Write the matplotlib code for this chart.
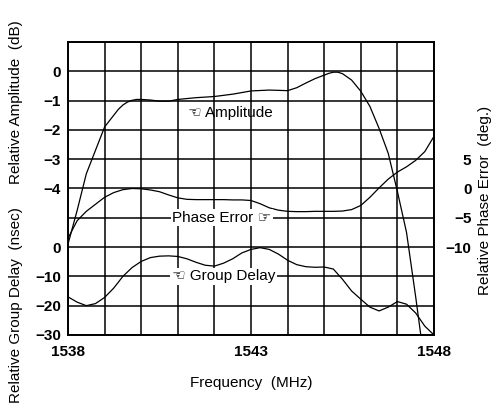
import matplotlib
matplotlib.use("Agg")
import matplotlib.pyplot as plt

# frequency grid (MHz) shared by phase error and group delay
freq = [1538.0, 1538.25, 1538.5, 1538.75, 1539.0, 1539.25, 1539.5, 1539.75,
        1540.0, 1540.25, 1540.5, 1540.75, 1541.0, 1541.25, 1541.5, 1541.75,
        1542.0, 1542.25, 1542.5, 1542.75, 1543.0, 1543.25, 1543.5, 1543.75,
        1544.0, 1544.25, 1544.5, 1544.75, 1545.0, 1545.25, 1545.5, 1545.75,
        1546.0, 1546.25, 1546.5, 1546.75, 1547.0, 1547.25, 1547.5, 1547.75,
        1548.0]

# relative amplitude (dB)
amp_freq = [1538.0, 1538.25, 1538.5, 1538.75, 1539.0, 1539.25, 1539.375, 1539.5,
            1539.625, 1539.75, 1539.875, 1540.0, 1540.25, 1540.5, 1540.75, 1541.0,
            1541.5, 1542.0, 1542.5, 1543.0, 1543.5, 1543.75, 1544.0, 1544.25,
            1544.5, 1544.75, 1545.0, 1545.125, 1545.25, 1545.375, 1545.5, 1545.75,
            1546.0, 1546.25, 1546.5, 1546.75, 1547.0, 1547.25, 1547.5, 1547.65]
amplitude = [-5.9, -4.75, -3.5, -2.7, -1.9, -1.5, -1.3, -1.15,
             -1.05, -0.99, -0.96, -0.96, -0.98, -1.02, -1.02, -0.96,
             -0.9, -0.86, -0.78, -0.67, -0.64, -0.65, -0.66, -0.56,
             -0.4, -0.25, -0.13, -0.07, -0.03, -0.03, -0.08, -0.3,
             -0.68, -1.2, -1.95, -2.8, -4.1, -5.5, -7.7, -9.1]

# relative phase error (deg)
phase = [-8.5, -5.5, -3.9, -2.7, -1.5, -0.7, -0.2, 0.0,
         -0.05, -0.25, -0.55, -1.1, -1.6, -1.85, -1.9, -1.9,
         -1.9, -1.9, -1.95, -1.95, -2.05, -2.6, -3.3, -3.7,
         -3.9, -3.95, -3.95, -3.9, -3.9, -3.9, -3.85, -3.6,
         -2.9, -1.5, 0.1, 1.6, 2.8, 3.7, 4.8, 6.3,
         8.9]

# relative group delay (nsec)
group_delay = [-17.0, -18.8, -20.0, -19.3, -17.2, -14.0, -10.0, -7.0,
               -4.9, -3.6, -3.1, -3.0, -3.2, -4.0, -5.2, -6.2,
               -6.5, -5.5, -4.0, -2.0, -0.8, -0.2, -0.8, -2.4,
               -4.5, -6.0, -6.7, -6.9, -6.8, -7.5, -11.0, -15.0,
               -17.8, -20.5, -21.8, -20.5, -18.6, -19.5, -22.5, -27.0,
               -30.0]

amp_ticks = [0, -1, -2, -3, -4]
gd_ticks = [0, -10, -20, -30]
ph_ticks = [5, 0, -5, -10]
x_labels = [1538, 1543, 1548]

TXT = ['Liberation Sans', 'DejaVu Sans']
TICK = dict(family=['Liberation Sans', 'DejaVu Sans'], weight='bold', size=11)


def minus(v):
    return str(v).replace('-', '\u2212')


fig = plt.figure(figsize=(4.97, 4.12), dpi=100)
ax = fig.add_axes([0.1368, 0.187, 0.7364, 0.711])

# ---- host axis: amplitude, carries the grid ----
ax.set_xlim(1538, 1548)
ax.set_ylim(-9, 1)
ax.set_xticks(range(1538, 1549))
ax.set_xticklabels([str(v) if v in x_labels else '' for v in range(1538, 1549)],
                   **TICK)
ax.set_yticks(range(-9, 2))
ax.set_yticklabels([minus(v) if v in amp_ticks else '' for v in range(-9, 2)],
                   **TICK)
ax.grid(True, color='k', linewidth=1.1)
ax.tick_params(length=0)
ax.tick_params(axis='y', pad=5)
ax.tick_params(axis='x', pad=7)
for sp in ax.spines.values():
    sp.set_linewidth(1.4)
ax.plot(amp_freq, amplitude, color='k', linewidth=0.9)

# ---- group delay: second left scale ----
ax_gd = ax.twinx()
ax_gd.set_ylim(-30, 70)
ax_gd.yaxis.tick_left()
ax_gd.set_yticks(gd_ticks)
ax_gd.set_yticklabels([minus(v) for v in gd_ticks], **TICK)
ax_gd.tick_params(length=0, pad=5)
for sp in ax_gd.spines.values():
    sp.set_visible(False)
ax_gd.plot(freq, group_delay, color='k', linewidth=0.9)

# ---- phase error: right scale ----
ax_ph = ax.twinx()
ax_ph.set_ylim(-25, 25)
ax_ph.set_yticks(ph_ticks)
ax_ph.set_yticklabels([minus(v) for v in ph_ticks], **TICK)
ax_ph.tick_params(length=0, pad=27)
for lbl in ax_ph.get_yticklabels():
    lbl.set_horizontalalignment('right')
for sp in ax_ph.spines.values():
    sp.set_visible(False)
ax_ph.plot(freq, phase, color='k', linewidth=0.9)

# ---- curve labels ----
box = dict(facecolor='white', edgecolor='none', pad=1)
ax.text(1542.45, -1.42, '\u261c Amplitude', family=TXT, size=11,
        ha='center', va='center')
ax_ph.text(1542.2, -5, 'Phase Error \u261e', family=TXT, size=11,
           ha='center', va='center', bbox=box)
ax_gd.text(1542.25, -10, '\u261c Group Delay', family=TXT, size=11,
           ha='center', va='center', bbox=box)

# ---- axis titles ----
fig.text(16 / 497, 1 - 102 / 412, 'Relative Amplitude  (dB)', family=TXT,
         size=11, rotation=90, ha='center', va='center')
fig.text(16 / 497, 1 - 305 / 412, 'Relative Group Delay  (nsec)', family=TXT,
         size=11, rotation=90, ha='center', va='center')
fig.text(485 / 497, 1 - 200 / 412, 'Relative Phase Error  (deg.)', family=TXT,
         size=11, rotation=90, ha='center', va='center')
fig.text(251 / 497, 1 - 383 / 412, 'Frequency  (MHz)', family=TXT,
         size=11, ha='center', va='center')

fig.savefig('out.png', dpi=100)
